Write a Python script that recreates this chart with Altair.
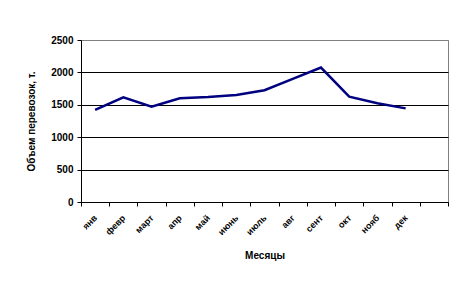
import altair as alt
import pandas as pd

months = ["янв", "февр", "март", "апр", "май", "июнь", "июль", "авг", "сент", "окт", "нояб", "дек"]
values = [1420, 1615, 1470, 1600, 1620, 1650, 1725, 1900, 2075, 1625, 1525, 1445]
domain = months + [""]

df = pd.DataFrame({"month": months, "value": values})

FONT = "Liberation Sans"

chart = alt.Chart(df).mark_line(color="#000080", strokeWidth=2.5).encode(
    x=alt.X("month:N", sort=domain,
            scale=alt.Scale(domain=domain, paddingInner=0, paddingOuter=0),
            axis=alt.Axis(title="Месяцы", labelAngle=-45, labelAlign="right", labelBaseline="middle",
                          tickBand="extent", labelPadding=10, tickSize=4, grid=False,
                          domainColor="black", tickColor="black", labelFont=FONT, labelFontSize=9,
                          labelFontWeight="bold", labelColor="black", titleFont=FONT, titleFontSize=10,
                          titleFontWeight="bold", titleColor="black", titlePadding=14)),
    y=alt.Y("value:Q", scale=alt.Scale(domain=[0, 2500], nice=False),
            axis=alt.Axis(title="Объем перевозок, т.", values=[0, 500, 1000, 1500, 2000, 2500],
                          format="d", tickSize=4, labelPadding=4, grid=True,
                          gridColor=alt.condition("datum.value == 2500", alt.value("#808080"), alt.value("black")),
                          domainColor="black", tickColor="black", labelFont=FONT, labelFontSize=10,
                          labelFontWeight="bold", labelColor="black", titleFont=FONT, titleFontSize=10,
                          titleFontWeight="bold", titleColor="black", titlePadding=14)),
).properties(
    width=367, height=162,
    autosize=alt.AutoSizeParams(type="none"),
    padding={"left": 81, "top": 40, "right": 8, "bottom": 89},
    background="white",
).configure_view(stroke="#808080")

chart.save("out.html", embed_options={"renderer": "svg", "actions": False})
